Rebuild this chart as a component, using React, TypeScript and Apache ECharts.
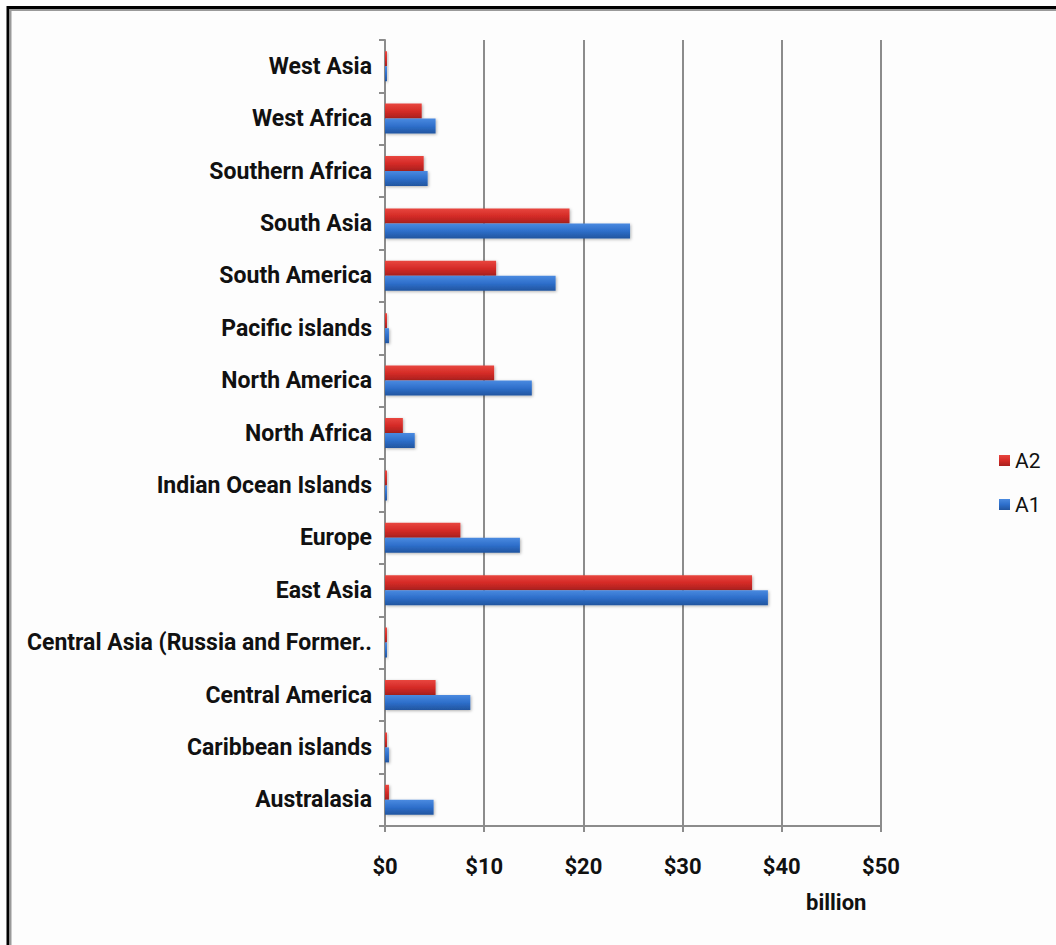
import React, { useEffect, useRef } from "react";
import * as echarts from "echarts";

const categories = [
  "Australasia",
  "Caribbean islands",
  "Central America",
  "Central Asia (Russia and Former..",
  "East Asia",
  "Europe",
  "Indian Ocean Islands",
  "North Africa",
  "North America",
  "Pacific islands",
  "South America",
  "South Asia",
  "Southern Africa",
  "West Africa",
  "West Asia",
];
const seriesA2 = [0.4, 0.2, 5.1, 0.2, 37.0, 7.6, 0.2, 1.8, 11.0, 0.2, 11.2, 18.6, 3.9, 3.7, 0.2];
const seriesA1 = [4.9, 0.4, 8.6, 0.2, 38.6, 13.6, 0.2, 3.0, 14.8, 0.4, 17.2, 24.7, 4.3, 5.1, 0.2];
const xTicks = [0, 10, 20, 30, 40, 50];

const FONT = "Roboto, 'Open Sans', sans-serif";

export default function App() {
  const ref = useRef<HTMLDivElement>(null);
  useEffect(() => {
    if (!ref.current) return;
    const chart = echarts.init(ref.current, undefined, { renderer: "svg" });
    const redGrad = new echarts.graphic.LinearGradient(0, 0, 0, 1, [
      { offset: 0, color: "#e8463f" },
      { offset: 0.5, color: "#d52b27" },
      { offset: 1, color: "#a8201e" },
    ]);
    const blueGrad = new echarts.graphic.LinearGradient(0, 0, 0, 1, [
      { offset: 0, color: "#4a8ae0" },
      { offset: 0.5, color: "#2e6fcb" },
      { offset: 1, color: "#22559f" },
    ]);
    chart.setOption({
      animation: false,
      backgroundColor: "#fdfdfd",
      textStyle: { fontFamily: FONT },
      grid: { left: 385, right: 175, top: 40, bottom: 119, containLabel: false },
      legend: {
        orient: "vertical",
        left: 994,
        top: 445,
        itemGap: 23,
        itemWidth: 11,
        itemHeight: 11,
        icon: "rect",
        data: ["A2", "A1"],
        textStyle: { fontSize: 21, color: "#111", fontFamily: FONT, padding: [4, 0, 0, 0] },
      },
      xAxis: {
        type: "value",
        min: xTicks[0],
        max: xTicks[xTicks.length - 1],
        interval: 10,
        axisLine: { show: true, lineStyle: { color: "#8c8c8c", width: 2 } },
        axisTick: { show: true, length: 6, lineStyle: { color: "#8c8c8c", width: 2 } },
        splitLine: { show: true, lineStyle: { color: "#8c8c8c", width: 2 } },
        axisLabel: {
          margin: 29,
          formatter: (v: number) => "$" + v,
          fontSize: 22,
          fontWeight: "bold",
          color: "#111",
          fontFamily: FONT,
        },
      },
      yAxis: {
        type: "category",
        data: categories,
        axisLine: { show: true, lineStyle: { color: "#8c8c8c", width: 2 } },
        axisTick: { show: true, length: 6, lineStyle: { color: "#8c8c8c", width: 2 } },
        axisLabel: {
          margin: 13,
          fontSize: 23,
          fontWeight: "bold",
          color: "#111",
          fontFamily: FONT,
        },
      },
      series: [
        {
          name: "A2",
          type: "bar",
          data: seriesA2,
          barWidth: 15,
          barGap: "0%",
          itemStyle: { color: redGrad, shadowBlur: 3, shadowColor: "rgba(0,0,0,0.3)", shadowOffsetX: 1, shadowOffsetY: 1 },
        },
        {
          name: "A1",
          type: "bar",
          data: seriesA1,
          barWidth: 15,
          barGap: "0%",
          itemStyle: { color: blueGrad, shadowBlur: 3, shadowColor: "rgba(0,0,0,0.3)", shadowOffsetX: 1, shadowOffsetY: 1 },
        },
      ],
      graphic: [
        {
          type: "text",
          left: 806,
          top: 891,
          style: { text: "billion", fontSize: 22, fontWeight: "bold", fill: "#111", fontFamily: FONT },
        },
        {
          type: "polyline",
          shape: { points: [[8, 960], [8, 7.5], [1100, 7.5]] },
          style: { stroke: "#000", lineWidth: 3, fill: null },
        },
        {
          type: "polyline",
          shape: { points: [[10.5, 960], [10.5, 10], [1100, 10]] },
          style: { stroke: "#9a9a9a", lineWidth: 2, fill: null },
        },
      ],
    });
    return () => chart.dispose();
  }, []);
  return (
    <div
      ref={ref}
      style={{ position: "absolute", left: 0, top: 0, width: 1056, height: 945 }}
    />
  );
}
